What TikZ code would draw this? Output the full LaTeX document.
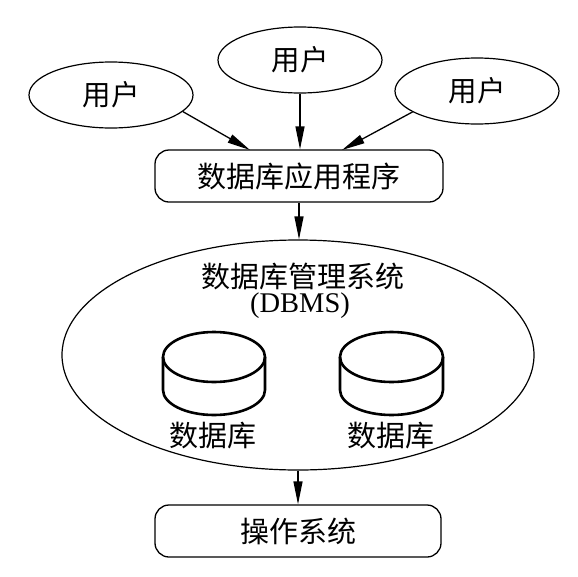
\documentclass[tikz,border=0pt]{standalone}
\usepackage{fontspec}
\setmainfont{Liberation Serif}
\newfontfamily\cjk{Noto Sans CJK SC}
\usetikzlibrary{arrows.meta,shapes.geometric}
\begin{document}
\begin{tikzpicture}[x=1pt,y=-1pt,
  user/.style={ellipse,draw,line width=1.2pt,minimum width=164pt,minimum height=66pt,inner sep=0pt,font=\cjk\fontsize{28.5}{30}\selectfont},
  rbox/.style={draw,rounded corners=14pt,line width=1.3pt,minimum width=288pt,minimum height=52pt,inner sep=0pt,font=\cjk\fontsize{29}{31}\selectfont},
  arr/.style={line width=1.3pt,-{Triangle[length=23pt,width=9pt]}},
  lbl/.style={font=\cjk\fontsize{29}{31}\selectfont,inner sep=0pt},
  cyl/.style={line width=2.6pt,line join=round},
]
\useasboundingbox (0,0) rectangle (578,576);
\fill[white] (0,0) rectangle (578,576);
\node[user] (u1) at (111,95) {用户};
\node[user] (u2) at (300,60) {用户};
\node[user] (u3) at (477,91) {用户};
\node[rbox] (app) at (299,176) {数据库应用程序};
\node[ellipse,draw,line width=1.2pt,minimum width=472pt,minimum height=230pt,inner sep=0pt] (dbms) at (298,355) {};
\node[lbl] (t1) at (303,276) {数据库管理系统};
\node[font=\fontsize{28.5}{30}\selectfont,inner sep=0pt] (t2) at (300,306) {(DBMS)};
% cylinders
\draw[cyl] (214,357) ellipse [x radius=51pt, y radius=25pt];
\draw[cyl] (163,357) -- (163,390) arc[start angle=180,end angle=360,x radius=51pt,y radius=25pt] -- (265,357);
\draw[cyl] (391.5,357) ellipse [x radius=51.5pt, y radius=25pt];
\draw[cyl] (340,357) -- (340,390) arc[start angle=180,end angle=360,x radius=51.5pt,y radius=25pt] -- (443,357);
\node[lbl] (d1) at (213,436) {数据库};
\node[lbl] (d2) at (391,436) {数据库};
\node[rbox,minimum width=286pt] (os) at (298,531) {操作系统};
% connectors
\coordinate (a1) at (250,150);
\coordinate (a3) at (342,150);
\draw[arr] (u1.-13) -- (a1);
\draw[arr] (u3.198) -- (a3);
\draw[arr] (u2.south) -- (u2.south |- app.north);
\draw[arr] (app.south) -- (app.south |- dbms.north);
\draw[arr] (dbms.south) -- (dbms.south |- os.north);
\end{tikzpicture}
\end{document}
